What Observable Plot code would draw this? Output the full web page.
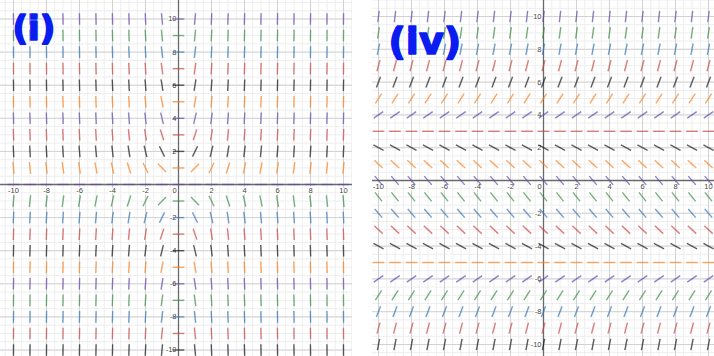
<!DOCTYPE html>
<html>
<head>
<meta charset="utf-8">
<script src="https://cdn.jsdelivr.net/npm/d3@7"></script>
<script src="https://cdn.jsdelivr.net/npm/@observablehq/plot@0.6"></script>
<style>
  body { margin: 0; background: #fff; }
  #wrap { position: relative; width: 714px; height: 356px; background: #fff; overflow: hidden; }
  .panel { position: absolute; top: 0; }
</style>
</head>
<body>
<div id="wrap">
  <div id="p1" class="panel" style="left:0px"></div>
  <div id="p2" class="panel" style="left:372px"></div>
</div>
<script>
// ---- data ----
const gridYs = [10, 9, 8, 7, 6, 5, 4, 3, 2, 1, 0, -1, -2, -3, -4, -5, -6, -7, -8, -9, -10];
const gridXs = [-10, -9, -8, -7, -6, -5, -4, -3, -2, -1, 0, 1, 2, 3, 4, 5, 6, 7, 8, 9, 10];
const rowColors = ["purple", "green", "blue", "red", "black", "orange", "purple", "red", "black", "orange", "purple",
                   "green", "blue", "red", "black", "orange", "purple", "green", "blue", "red", "black"];
// panel (i): slope at each grid point, rows y = 10 .. -10, columns x = -10 .. 10
const slopesI = [
  [-100,-90,-80,-70,-60,-50,-40,-30,-20,-10,0,10,20,30,40,50,60,70,80,90,100],
  [-90,-81,-72,-63,-54,-45,-36,-27,-18,-9,0,9,18,27,36,45,54,63,72,81,90],
  [-80,-72,-64,-56,-48,-40,-32,-24,-16,-8,0,8,16,24,32,40,48,56,64,72,80],
  [-70,-63,-56,-49,-42,-35,-28,-21,-14,-7,0,7,14,21,28,35,42,49,56,63,70],
  [-60,-54,-48,-42,-36,-30,-24,-18,-12,-6,0,6,12,18,24,30,36,42,48,54,60],
  [-50,-45,-40,-35,-30,-25,-20,-15,-10,-5,0,5,10,15,20,25,30,35,40,45,50],
  [-40,-36,-32,-28,-24,-20,-16,-12,-8,-4,0,4,8,12,16,20,24,28,32,36,40],
  [-30,-27,-24,-21,-18,-15,-12,-9,-6,-3,0,3,6,9,12,15,18,21,24,27,30],
  [-20,-18,-16,-14,-12,-10,-8,-6,-4,-2,0,2,4,6,8,10,12,14,16,18,20],
  [-10,-9,-8,-7,-6,-5,-4,-3,-2,-1,0,1,2,3,4,5,6,7,8,9,10],
  [0,0,0,0,0,0,0,0,0,0,0,0,0,0,0,0,0,0,0,0,0],
  [10,9,8,7,6,5,4,3,2,1,0,-1,-2,-3,-4,-5,-6,-7,-8,-9,-10],
  [20,18,16,14,12,10,8,6,4,2,0,-2,-4,-6,-8,-10,-12,-14,-16,-18,-20],
  [30,27,24,21,18,15,12,9,6,3,0,-3,-6,-9,-12,-15,-18,-21,-24,-27,-30],
  [40,36,32,28,24,20,16,12,8,4,0,-4,-8,-12,-16,-20,-24,-28,-32,-36,-40],
  [50,45,40,35,30,25,20,15,10,5,0,-5,-10,-15,-20,-25,-30,-35,-40,-45,-50],
  [60,54,48,42,36,30,24,18,12,6,0,-6,-12,-18,-24,-30,-36,-42,-48,-54,-60],
  [70,63,56,49,42,35,28,21,14,7,0,-7,-14,-21,-28,-35,-42,-49,-56,-63,-70],
  [80,72,64,56,48,40,32,24,16,8,0,-8,-16,-24,-32,-40,-48,-56,-64,-72,-80],
  [90,81,72,63,54,45,36,27,18,9,0,-9,-18,-27,-36,-45,-54,-63,-72,-81,-90],
  [100,90,80,70,60,50,40,30,20,10,0,-10,-20,-30,-40,-50,-60,-70,-80,-90,-100]
];
// panel (iv): slope depends only on the row, rows y = 10 .. -10
const slopesIV = [8.2, 6.5, 5.1, 3.7, 2.6, 1.56, 0.7, 0, -0.55, -0.94, -1.17, -1.25, -1.17, -0.94, -0.55, 0, 0.7, 1.56, 2.6, 3.7, 5.1];
const tickValues = [-10, -8, -6, -4, -2, 2, 4, 6, 8, 10];
const panelLabels = ["(i)", "(iv)"];

// ---- styling ----
const palette = {red: "#c74440", blue: "#2d70b3", green: "#388c46", purple: "#6042a6", orange: "#fa7e19", black: "#111111"};
const HALF = 0.35;

function segmentsFrom(slopeAt) {
  const segs = [];
  gridYs.forEach((y, i) => {
    gridXs.forEach((x, j) => {
      const m = slopeAt(i, j);
      const t = Math.atan(m);
      segs.push({x, y, x1: x - HALF * Math.cos(t), y1: y - HALF * Math.sin(t),
                 x2: x + HALF * Math.cos(t), y2: y + HALF * Math.sin(t), color: palette[rowColors[i]]});
    });
  });
  return segs;
}

function panel(opts) {
  const minor = d3.range(-12, 12.01, 0.5);
  const major = d3.range(-12, 12.01, 2);
  return Plot.plot({
    width: opts.width, height: opts.height,
    margin: 0,
    x: {domain: opts.xDomain, axis: null},
    y: {domain: opts.yDomain, axis: null},
    style: {background: "white", fontFamily: "Liberation Sans, Arial, sans-serif"},
    marks: [
      Plot.ruleX(minor, {stroke: "#eeeeee", strokeWidth: 1}),
      Plot.ruleY(minor, {stroke: "#eeeeee", strokeWidth: 1}),
      Plot.ruleX(major, {stroke: "#d2d2d2", strokeWidth: 1}),
      Plot.ruleY(major, {stroke: "#d2d2d2", strokeWidth: 1}),
      Plot.ruleX([0], {stroke: "#6a6a6a", strokeWidth: 1.3}),
      Plot.ruleY([0], {stroke: "#6a6a6a", strokeWidth: 1.3}),
      Plot.text(tickValues, {x: d => d, y: 0, dy: 6, text: d => String(d), fontSize: 7.5, fill: "#444",
        stroke: "white", strokeWidth: 2.5}),
      Plot.text(tickValues, {x: 0, y: d => d, dx: -2, text: d => String(d), textAnchor: "end", fontSize: 7.5, fill: "#444",
        stroke: "white", strokeWidth: 2.5}),
      Plot.text(["0"], {x: 0, y: 0, dx: -4, dy: 6, text: d => d, fontSize: 7.5, fill: "#444", stroke: "white", strokeWidth: 2.5}),
      Plot.link(opts.segs, {x1: "x1", y1: "y1", x2: "x2", y2: "y2", stroke: "color", strokeWidth: 1.4,
        strokeOpacity: 0.68, strokeLinecap: "butt"}),
      Plot.text([opts.label], {frameAnchor: "top-left", dx: opts.ldx, dy: opts.ldy, text: d => d,
        textAnchor: "start", lineAnchor: "top", fontSize: opts.lsize, fontWeight: "bold",
        fill: "#0a1cf0", stroke: "#0a1cf0", strokeWidth: 1.6, fontFamily: "DejaVu Sans"})
    ]
  });
}

const segsI = segmentsFrom((i, j) => slopesI[i][j]);
const segsIV = segmentsFrom((i, j) => slopesIV[i]);

document.getElementById("p1").appendChild(panel({
  width: 352, height: 356,
  xDomain: [-178 / 16.5, (352 - 178) / 16.5],
  yDomain: [-(356 - 184) / 16.55, 184 / 16.55],
  segs: segsI, label: panelLabels[0], ldx: 12, ldy: 15, lsize: 34
}));
document.getElementById("p2").appendChild(panel({
  width: 342, height: 356,
  xDomain: [-171 / 16.5, (342 - 171) / 16.5],
  yDomain: [-(356 - 180) / 16.4, 180 / 16.4],
  segs: segsIV, label: panelLabels[1], ldx: 16, ldy: 27, lsize: 38
}));
</script>
</body>
</html>
